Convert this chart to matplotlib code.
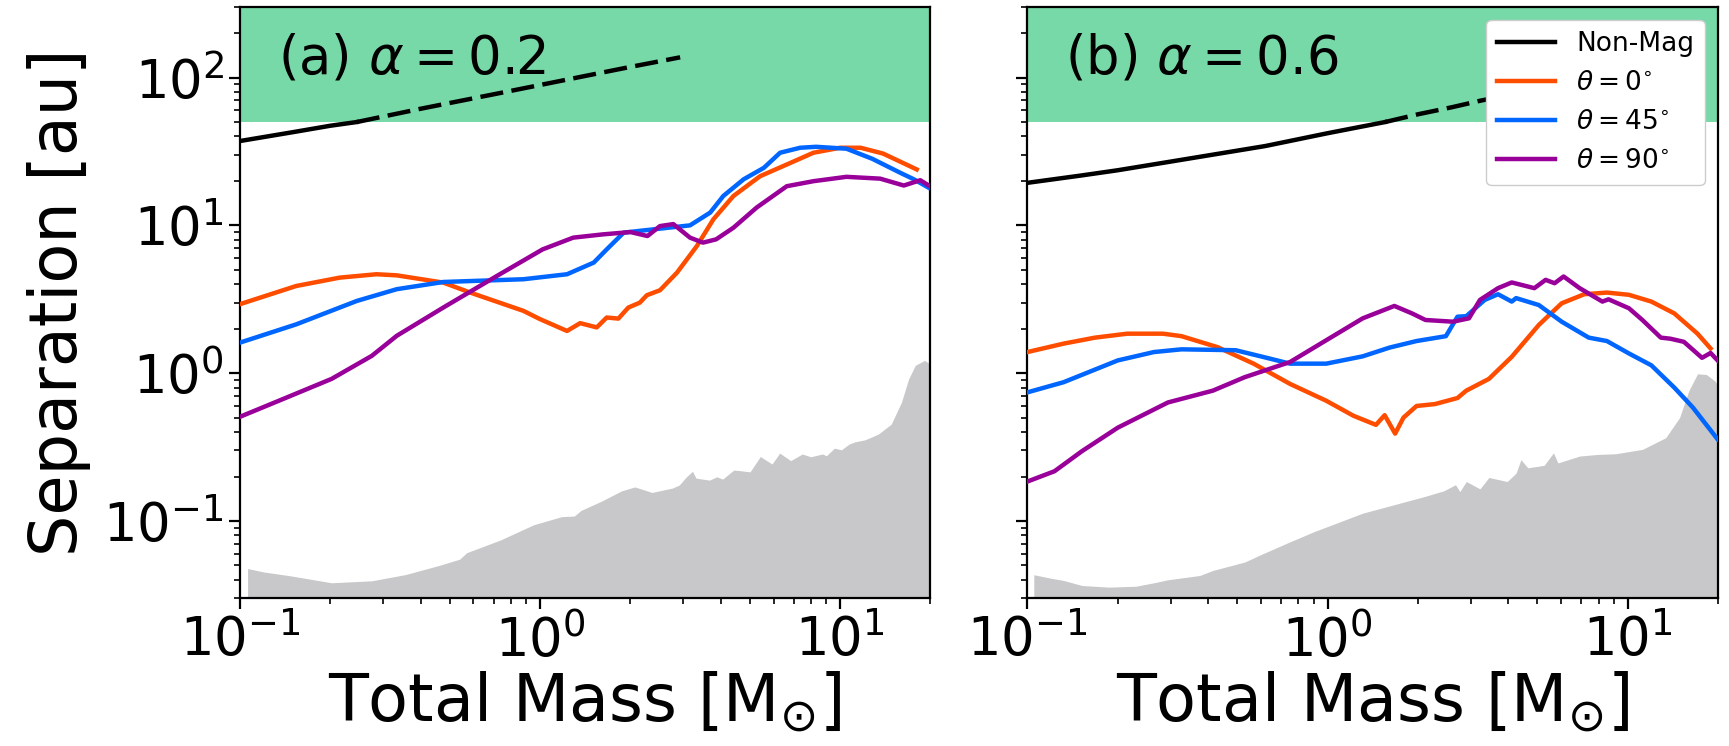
import numpy as np
import matplotlib
matplotlib.use("Agg")
import matplotlib.pyplot as plt

# limites e faixas
x_lim = (0.1, 20)
y_lim = (0.03, 300)
faixa_verde = (50, 300)

panel_labels = [r"(a) $\alpha=0.2$", r"(b) $\alpha=0.6$"]
legend_labels = ["Non-Mag", r"$\theta=0^{\circ}$", r"$\theta=45^{\circ}$", r"$\theta=90^{\circ}$"]

# ---- painel (a) alpha = 0.2
a_nonmag_m = [0.1, 0.15, 0.2, 0.245, 0.4, 0.7, 1.0, 1.5, 2.0, 2.93]
a_nonmag_s = [37.2, 42.7, 47.2, 50.0, 61.5, 77, 89, 105, 118, 137]

a_t0_m = [0.1, 0.154, 0.215, 0.285, 0.333, 0.476, 0.585, 0.88, 1.0, 1.23, 1.36, 1.545,
          1.668, 1.824, 1.969, 2.15, 2.27, 2.51, 2.86, 3.33, 3.78, 4.41, 5.41, 6.64,
          8.15, 10.0, 11.7, 13.9, 18.0]
a_t0_s = [2.93, 3.89, 4.43, 4.67, 4.59, 4.10, 3.51, 2.64, 2.32, 1.93, 2.18, 2.04,
          2.38, 2.34, 2.78, 3.00, 3.37, 3.64, 4.79, 7.24, 10.98, 15.8, 21.5, 25.8,
          31.0, 33.5, 33.5, 30.6, 23.9]

a_t45_m = [0.1, 0.154, 0.245, 0.333, 0.476, 0.88, 1.23, 1.51, 1.668, 1.90, 2.39, 3.16,
           3.69, 4.08, 4.77, 5.57, 6.31, 7.36, 8.32, 10.5, 12.8, 15.85, 17.6, 19.7]
a_t45_s = [1.61, 2.14, 3.08, 3.70, 4.14, 4.32, 4.67, 5.60, 6.88, 8.93, 9.40, 10.0,
           12.2, 15.8, 20.5, 24.5, 31.0, 33.5, 34.0, 33.0, 28.2, 22.7, 20.5, 18.0]

a_t90_m = [0.1, 0.137, 0.202, 0.275, 0.333, 0.476, 0.717, 1.02, 1.29, 1.62, 2.0, 2.28,
           2.51, 2.78, 3.16, 3.49, 3.86, 4.41, 5.27, 6.64, 8.15, 10.5, 13.6, 16.3,
           18.5, 20.0]
a_t90_s = [0.507, 0.66, 0.915, 1.31, 1.79, 2.78, 4.54, 6.88, 8.26, 8.69, 9.01, 8.47,
           9.89, 10.2, 8.26, 7.64, 8.04, 9.64, 13.2, 18.4, 19.9, 21.3, 20.7, 18.6,
           20.2, 18.3]

a_cinza_m = [0.106, 0.120, 0.148, 0.202, 0.275, 0.356, 0.463, 0.54, 0.569, 0.739, 0.953,
             1.18, 1.30, 1.37, 1.60, 1.87, 2.07, 2.36, 2.76, 2.91, 3.06, 3.22, 3.31,
             3.67, 3.88, 4.06, 4.42, 4.64, 5.01, 5.42, 5.93, 6.29, 6.84, 7.48, 7.98,
             8.74, 9.0, 9.57, 10.1, 10.7, 11.2, 12.1, 13.4, 14.8, 16.0, 16.9, 17.8,
             19.1, 20.0]
a_cinza_s = [0.0477, 0.0452, 0.0425, 0.0382, 0.0394, 0.0434, 0.0502, 0.0552, 0.061,
             0.0745, 0.0944, 0.107, 0.108, 0.118, 0.136, 0.160, 0.170, 0.156, 0.167,
             0.175, 0.197, 0.217, 0.195, 0.189, 0.199, 0.192, 0.221, 0.219, 0.215,
             0.273, 0.243, 0.288, 0.256, 0.284, 0.272, 0.284, 0.276, 0.311, 0.303,
             0.331, 0.343, 0.354, 0.387, 0.452, 0.634, 0.91, 1.13, 1.22, 1.15]

# ---- painel (b) alpha = 0.6
b_nonmag_m = [0.1, 0.15, 0.2, 0.3, 0.62, 1.0, 1.556, 2.0, 2.6, 3.26, 3.5]
b_nonmag_s = [19.4, 21.7, 23.6, 27.0, 34.4, 42.0, 50.0, 56.4, 63.0, 70.0, 72.0]

b_t0_m = [0.1, 0.132, 0.168, 0.215, 0.283, 0.326, 0.43, 0.567, 0.75, 0.99, 1.22, 1.45,
          1.55, 1.68, 1.79, 1.98, 2.28, 2.71, 2.90, 3.45, 4.11, 5.06, 6.03, 7.17,
          8.53, 10.1, 12.0, 14.3, 17.1, 18.9]
b_t0_s = [1.39, 1.585, 1.74, 1.85, 1.85, 1.78, 1.50, 1.16, 0.846, 0.651, 0.515, 0.447,
          0.52, 0.39, 0.50, 0.60, 0.618, 0.679, 0.762, 0.915, 1.29, 2.12, 2.97, 3.42,
          3.51, 3.39, 3.05, 2.54, 1.85, 1.47]

b_t45_m = [0.1, 0.132, 0.2, 0.264, 0.326, 0.494, 0.608, 0.75, 0.99, 1.31, 1.61, 1.98,
           2.48, 2.71, 2.90, 3.34, 3.70, 4.11, 4.25, 5.06, 6.03, 7.42, 8.53, 10.1,
           12.0, 14.3, 16.5, 19.95]
b_t45_s = [0.742, 0.869, 1.22, 1.39, 1.45, 1.43, 1.29, 1.16, 1.16, 1.30, 1.49, 1.65,
           1.78, 2.41, 2.43, 3.13, 3.42, 3.05, 3.22, 2.89, 2.23, 1.74, 1.65, 1.36,
           1.13, 0.80, 0.586, 0.357]

b_t90_m = [0.1, 0.123, 0.152, 0.2, 0.294, 0.415, 0.53, 0.75, 0.99, 1.31, 1.67, 1.91,
           2.12, 2.62, 2.96, 3.22, 3.70, 4.11, 4.89, 5.33, 5.71, 6.12, 6.92, 8.24,
           8.64, 10.1, 11.2, 12.9, 13.9, 15.4, 17.7, 18.9, 19.95]
b_t90_s = [0.185, 0.217, 0.297, 0.428, 0.634, 0.762, 0.94, 1.19, 1.67, 2.35, 2.85, 2.54,
           2.29, 2.23, 2.35, 3.13, 3.76, 4.11, 3.76, 4.28, 4.06, 4.51, 3.76, 3.05,
           3.16, 2.75, 2.29, 1.74, 1.71, 1.63, 1.27, 1.37, 1.22]

b_cinza_m = [0.105, 0.119, 0.132, 0.152, 0.187, 0.23, 0.264, 0.293, 0.375, 0.415, 0.53,
             0.608, 0.75, 0.90, 1.31, 1.67, 2.12, 2.44, 2.67, 2.76, 2.90, 3.22, 3.45,
             3.97, 4.25, 4.41, 4.65, 5.27, 5.66, 5.86, 6.92, 7.94, 9.12, 11.2, 13.4,
             14.9, 16.0, 17.1, 18.3, 19.6, 19.8]
b_cinza_s = [0.0433, 0.0411, 0.0396, 0.0366, 0.0357, 0.0362, 0.0382, 0.040, 0.0428,
             0.0463, 0.0528, 0.060, 0.0723, 0.0846, 0.113, 0.129, 0.147, 0.160, 0.176,
             0.158, 0.185, 0.165, 0.197, 0.185, 0.211, 0.26, 0.229, 0.238, 0.289,
             0.247, 0.275, 0.282, 0.285, 0.305, 0.366, 0.501, 0.762, 0.99, 0.98,
             0.881, 0.85]

cor_verde = "#78d9a8"
cor_cinza = "#c8c8ca"
cores = ["black", "#ff4d00", "#0066ff", "#990099"]

paineis = [
    (a_nonmag_m, a_nonmag_s, a_t0_m, a_t0_s, a_t45_m, a_t45_s, a_t90_m, a_t90_s, a_cinza_m, a_cinza_s),
    (b_nonmag_m, b_nonmag_s, b_t0_m, b_t0_s, b_t45_m, b_t45_s, b_t90_m, b_t90_s, b_cinza_m, b_cinza_s),
]

fig, axs = plt.subplots(1, 2, figsize=(17.29, 7.46), dpi=100, sharey=True)
fig.subplots_adjust(left=0.1388, right=0.9936, bottom=0.198, top=0.9906, wspace=0.1405)

lw = 3.2
for k, ax in enumerate(axs):
    nm_m, nm_s, m0, s0, m45, s45, m90, s90, cm, cs = paineis[k]
    nm_m = np.array(nm_m)
    nm_s = np.array(nm_s)

    ax.axhspan(faixa_verde[0], faixa_verde[1], color=cor_verde, lw=0, zorder=0)
    ax.fill_between(cm, 1e-3, cs, color=cor_cinza, lw=0, zorder=1)

    # Non-Mag: sólido abaixo de 50 au, tracejado acima
    solido = nm_s <= 50.01
    tracejado = nm_s >= 49.99
    ax.plot(nm_m[solido], nm_s[solido], color=cores[0], lw=lw, zorder=3, label=legend_labels[0])
    ax.plot(nm_m[tracejado], nm_s[tracejado], color=cores[0], lw=lw, ls=(0, (5.2, 1.9)), zorder=3)

    ax.plot(m0, s0, color=cores[1], lw=lw, zorder=3, label=legend_labels[1])
    ax.plot(m45, s45, color=cores[2], lw=lw, zorder=3, label=legend_labels[2])
    ax.plot(m90, s90, color=cores[3], lw=lw, zorder=3, label=legend_labels[3])

    ax.set_xscale("log")
    ax.set_yscale("log")
    ax.set_xlim(*x_lim)
    ax.set_ylim(*y_lim)

    ax.text(0.055, 0.913, panel_labels[k], transform=ax.transAxes, fontsize=38,
            va="center", ha="left", zorder=5)

    ax.tick_params(which="major", labelsize=38, length=8, width=1.6)
    ax.tick_params(which="minor", length=4.5, width=1.2)
    for sp in ax.spines.values():
        sp.set_linewidth(1.6)
    ax.set_xlabel(r"Total Mass [$\mathrm{M}_{\odot}$]", fontsize=47, labelpad=2)

axs[0].set_ylabel("Separation [au]", fontsize=47, labelpad=9)

leg = axs[1].legend(loc="upper right", fontsize=19, framealpha=1.0, handlelength=2.2)
for linha in leg.get_lines():
    linha.set_linewidth(3.2)

fig.savefig("out.png", dpi=100)
